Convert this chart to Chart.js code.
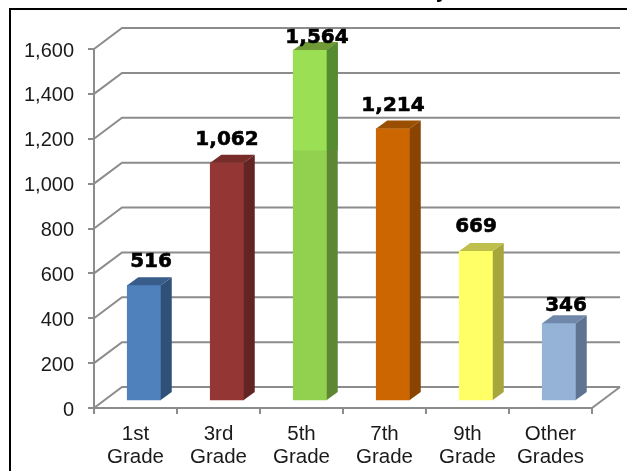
<!DOCTYPE html>
<html lang="en">
<head>
    <meta charset="UTF-8">
    <title>Students by Grade</title>
    <script src="https://cdn.jsdelivr.net/npm/chart.js"></script>
    <style>
        html, body { margin: 0; padding: 0; background: #fff; overflow: hidden; }
        #frame { position: absolute; left: 9px; top: 8px; width: 800px; height: 700px; border: 2px solid #000; }
        #wrap { position: absolute; left: 0; top: 0; width: 627px; height: 471px; }
    </style>
</head>
<body>
    <div id="frame"></div>
    <div id="wrap"><canvas id="gradeChart" width="627" height="471"></canvas></div>

    <script>
        const categories = [['1st', 'Grade'], ['3rd', 'Grade'], ['5th', 'Grade'], ['7th', 'Grade'], ['9th', 'Grade'], ['Other', 'Grades']];
        const students = [516, 1062, 1564, 1214, 669, 346];
        const yTicks = [0, 200, 400, 600, 800, 1000, 1200, 1400, 1600];

        const frontColors = ['#4f81bd', '#943634', '#92d050', '#cc6600', '#ffff66', '#95b3d7'];
        const sideColors = ['#2f5078', '#632523', '#5f8733', '#884400', '#a6a63d', '#5f7490'];
        const topColors = ['#385d8a', '#772c2a', '#6f9a35', '#9a4f00', '#bfbf4d', '#7089aa'];

        const GRAY = '#8c8c8c';
        const WALL_DX = 28, WALL_DY = 21;   // depth of the back wall
        const BAR_DX = 8.5, BAR_DY = 7;     // bars stand in the middle of the floor
        const SIDE_DX = 11, SIDE_DY = 8;    // depth of each bar
        const labelNudge = [[7, 0], [0, 0], [7, 11], [0, 0], [0, -1], [7, 6]];

        // back wall and floor, behind the bars
        const wallPlugin = {
            id: 'wall',
            beforeDatasetsDraw(chart) {
                const { ctx, chartArea, scales } = chart;
                ctx.save();
                ctx.strokeStyle = GRAY;
                ctx.lineWidth = 2;
                yTicks.forEach(v => {
                    const y = scales.y.getPixelForValue(v);
                    ctx.beginPath();
                    ctx.moveTo(chartArea.left, y);
                    ctx.lineTo(chartArea.left + WALL_DX, y - WALL_DY);
                    ctx.lineTo(chartArea.right + WALL_DX, y - WALL_DY);
                    ctx.stroke();
                });
                ctx.beginPath();
                ctx.moveTo(chartArea.right, chartArea.bottom);
                ctx.lineTo(chartArea.right + WALL_DX, chartArea.bottom - WALL_DY);
                ctx.stroke();
                ctx.restore();

                // y labels sit a little lower than the library puts them
                ctx.save();
                ctx.font = '20px "Liberation Sans"';
                ctx.fillStyle = '#1a1a1a';
                ctx.textAlign = 'right';
                ctx.textBaseline = 'alphabetic';
                yTicks.forEach(v => {
                    ctx.fillText(v.toLocaleString('en-US'), 74, scales.y.getPixelForValue(v) + 7.5);
                });
                // tail of the cut off title at the top edge
                ctx.font = 'bold 20px "Liberation Sans"';
                ctx.textAlign = 'left';
                ctx.fillStyle = '#000';
                ctx.fillText('y', 436, -2);
                ctx.restore();

                ctx.save();
                ctx.translate(BAR_DX, -BAR_DY);
            },
            afterDatasetsDraw(chart) {
                const { ctx, scales } = chart;
                const bars = chart.getDatasetMeta(0).data;
                bars.forEach((bar, i) => {
                    const r = bar.x + bar.width / 2, l = bar.x - bar.width / 2;
                    ctx.fillStyle = sideColors[i];
                    ctx.beginPath();
                    ctx.moveTo(r, bar.y);
                    ctx.lineTo(r + SIDE_DX, bar.y - SIDE_DY);
                    ctx.lineTo(r + SIDE_DX, bar.base - SIDE_DY);
                    ctx.lineTo(r, bar.base);
                    ctx.closePath();
                    ctx.fill();

                    ctx.fillStyle = topColors[i];
                    ctx.beginPath();
                    ctx.moveTo(l, bar.y);
                    ctx.lineTo(l + SIDE_DX, bar.y - SIDE_DY);
                    ctx.lineTo(r + SIDE_DX, bar.y - SIDE_DY);
                    ctx.lineTo(r, bar.y);
                    ctx.closePath();
                    ctx.fill();
                });

                // lighter upper part of the 5th grade bar
                const tall = bars[2];
                const band = scales.y.getPixelForValue(1117);
                ctx.fillStyle = '#9bdf55';
                ctx.fillRect(tall.x - tall.width / 2, tall.y, tall.width, band - tall.y);
                ctx.fillStyle = '#558b31';
                ctx.beginPath();
                ctx.moveTo(tall.x + tall.width / 2, tall.y);
                ctx.lineTo(tall.x + tall.width / 2 + SIDE_DX, tall.y - SIDE_DY);
                ctx.lineTo(tall.x + tall.width / 2 + SIDE_DX, band);
                ctx.lineTo(tall.x + tall.width / 2, band);
                ctx.closePath();
                ctx.fill();
                ctx.restore();

                // value labels
                ctx.save();
                ctx.font = 'bold 20px "DejaVu Sans"';
                ctx.fillStyle = '#000';
                ctx.strokeStyle = '#000';
                ctx.lineWidth = 0.6;
                ctx.textAlign = 'center';
                ctx.textBaseline = 'alphabetic';
                bars.forEach((bar, i) => {
                    const text = students[i].toLocaleString('en-US');
                    const tx = bar.x + BAR_DX + labelNudge[i][0];
                    const ty = bar.y - BAR_DY - 18 + labelNudge[i][1];
                    ctx.fillText(text, tx, ty);
                    ctx.strokeText(text, tx, ty);
                });
                ctx.restore();
            }
        };

        new Chart(document.getElementById('gradeChart').getContext('2d'), {
            type: 'bar',
            data: {
                labels: categories,
                datasets: [{
                    data: students,
                    backgroundColor: frontColors,
                    borderWidth: 0,
                    barThickness: 33.5,
                    clip: false
                }]
            },
            options: {
                responsive: false,
                animation: false,
                devicePixelRatio: 1,
                layout: { autoPadding: false, padding: { top: 49, right: 35, left: 0, bottom: 0 } },
                plugins: { legend: { display: false }, tooltip: { enabled: false } },
                scales: {
                    x: {
                        afterFit(scale) { scale.height = 63; },
                        border: { color: GRAY, width: 2 },
                        grid: { drawOnChartArea: false, color: GRAY, lineWidth: 2, tickLength: 6, offset: true },
                        ticks: {
                            color: '#1a1a1a',
                            font: { family: '"Liberation Sans"', size: 20.5, lineHeight: 1.12 },
                            padding: 9,
                            maxRotation: 0,
                            autoSkip: false
                        }
                    },
                    y: {
                        min: 0,
                        max: 1600,
                        afterFit(scale) { scale.width = 94; },
                        afterBuildTicks(scale) { scale.ticks = yTicks.map(value => ({ value })); },
                        border: { color: GRAY, width: 2 },
                        grid: { drawOnChartArea: false, color: GRAY, lineWidth: 2, tickLength: 6 },
                        ticks: { display: false }
                    }
                }
            },
            plugins: [wallPlugin]
        });
    </script>
</body>
</html>
